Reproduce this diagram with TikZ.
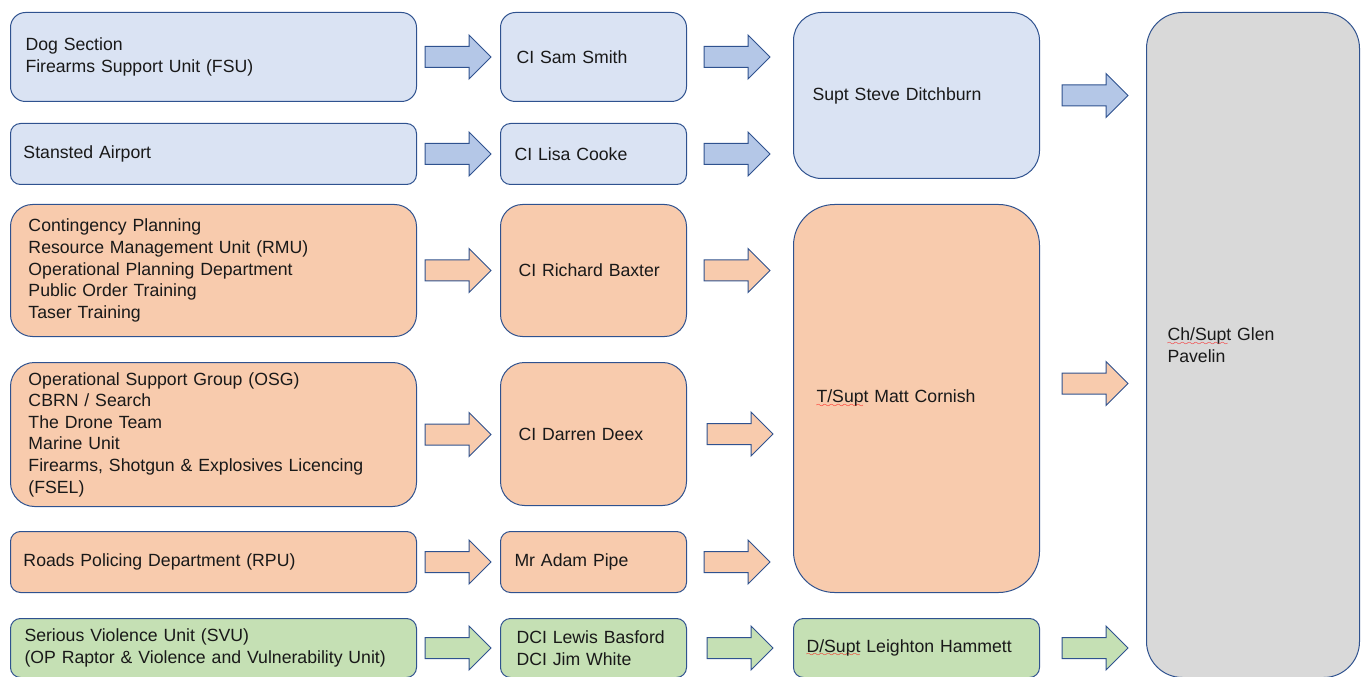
\documentclass[tikz,border=0pt]{standalone}
\usepackage{fontspec}
\setmainfont{Liberation Sans}
\usetikzlibrary{calc}

\definecolor{boxline}{HTML}{2F528F}
\definecolor{blueFill}{HTML}{DAE3F3}
\definecolor{blueArrow}{HTML}{B4C7E7}
\definecolor{orangeFill}{HTML}{F8CBAD}
\definecolor{greenFill}{HTML}{C5E0B4}
\definecolor{grayFill}{HTML}{D9D9D9}

\font\waveFont=lasy6
\newsavebox{\spellBox}
\newcommand{\spellMark}[1]{\sbox{\spellBox}{#1}\rlap{\textcolor{red}{\lower3.4pt\hbox to \wd\spellBox{\leaders\hbox{\waveFont\char58}\hfil}}}#1}
\newcommand{\drawArrow}[2]{
   	\draw[boxline, line width=0.75pt, fill=#2] (#1) ++(0,-10.5) -- ++(44,0) -- ++(0,-11.5) -- ++(22,22) -- ++(-22,22) -- ++(0,-11.5) -- ++(-44,0) -- cycle ;
}

\tikzset{
	box/.style n args={4}{draw=boxline, line width=0.75pt, rounded corners=#4*0.75pt, anchor=north west,
		minimum width=#1*0.75pt, minimum height=#2*0.75pt, text width={(#1-2*#3)*0.75pt},
		inner xsep=0pt, inner ysep=0pt, align=left, text=black!90, font=\fontsize{13.25pt}{16.2pt}\selectfont}
}

\begin{document}
\begin{tikzpicture}[x=0.75pt, y=-0.75pt]
%%%%%%%%%%%%%%%%%%
\useasboundingbox (0,0) rectangle (1363,677);

%Sections
	\node[box={406}{89}{15}{15}, fill=blueFill] (dogFsu) at (10,12) {Dog Section\\Firearms Support Unit (FSU)};
	\node[box={406}{61}{13}{10}, fill=blueFill] (stansted) at (10,123) {Stansted Airport};
	\node[box={406}{132}{18}{22}, fill=orangeFill] (planning) at (10,204) {Contingency Planning\\Resource Management Unit (RMU)\\Operational Planning Department\\Public Order Training\\Taser Training};
	\node[box={406}{144}{18}{24}, fill=orangeFill] (osg) at (10,362) {Operational Support Group (OSG)\\CBRN / Search\\The Drone Team\\Marine Unit\\Firearms, Shotgun \& Explosives Licencing\\(FSEL)};
	\node[box={406}{61}{13}{10}, fill=orangeFill] (roads) at (10,531) {Roads Policing Department (RPU)};
	\node[box={406}{59}{14}{10}, fill=greenFill] (svu) at (10,618) {Serious Violence Unit (SVU)\\(OP Raptor \& Violence and Vulnerability Unit)};

%Chief inspectors
	\node[box={186}{89}{16}{15}, fill=blueFill] (smith) at (500,12) {CI Sam Smith};
	\node[box={186}{61}{14}{10}, fill=blueFill] (cooke) at (500,123) {CI Lisa Cooke};
	\node[box={186}{132}{18}{22}, fill=orangeFill] (baxter) at (500,204) {CI Richard Baxter};
	\node[box={186}{143}{18}{24}, fill=orangeFill] (deex) at (500,362) {CI Darren Deex};
	\node[box={186}{61}{14}{10}, fill=orangeFill] (pipe) at (500,531) {Mr Adam Pipe};
	\node[box={186}{59}{16}{10}, fill=greenFill] (basford) at (500,618) {DCI Lewis Basford\\DCI Jim White};

%Superintendents
	\node[box={246}{166}{19}{28}, fill=blueFill] (ditchburn) at (793,12) {Supt Steve Ditchburn};
	\node[box={246}{388}{23}{41}, fill=orangeFill] (cornish) at (793,204) {\spellMark{T/Supt} Matt Cornish};
	\node[box={246}{59}{13}{10}, fill=greenFill] (hammett) at (793,618) {\spellMark{D/Supt} Leighton Hammett};

	\node[box={213}{665}{21}{36}, fill=grayFill] (pavelin) at (1146,12) {\spellMark{Ch/Supt} Glen\\Pavelin};

% Arrows
	\drawArrow{$(dogFsu.east)+(8,0)$}{blueArrow}
	\drawArrow{$(stansted.east)+(8,0)$}{blueArrow}
	\drawArrow{$(planning.east)+(8,0)$}{orangeFill}
	\drawArrow{$(osg.east)+(8,0)$}{orangeFill}
	\drawArrow{$(roads.east)+(8,0)$}{orangeFill}
	\drawArrow{$(svu.east)+(8,0)$}{greenFill}

	\drawArrow{$(smith.east)+(17,0)$}{blueArrow}
	\drawArrow{$(cooke.east)+(17,0)$}{blueArrow}
	\drawArrow{$(baxter.east)+(17,0)$}{orangeFill}
	\drawArrow{$(deex.east)+(20,0)$}{orangeFill}
	\drawArrow{$(pipe.east)+(17,0)$}{orangeFill}
	\drawArrow{$(basford.east)+(20,0)$}{greenFill}

	\drawArrow{$(ditchburn.east)+(22,0)$}{blueArrow}
	\drawArrow{$(cornish.east)+(22,-15)$}{orangeFill}
	\drawArrow{$(hammett.east)+(22,0)$}{greenFill}

\end{tikzpicture}
\end{document}
